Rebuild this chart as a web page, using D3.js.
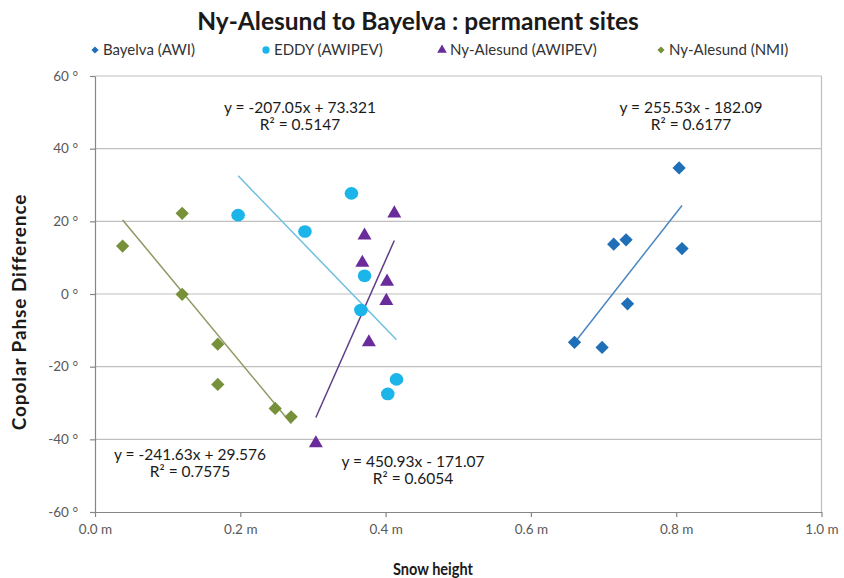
<!DOCTYPE html>
<html><head><meta charset="utf-8">
<script src="https://cdn.jsdelivr.net/npm/d3@7"></script>
<style>body{margin:0;background:#fff}svg{display:block}</style>
</head><body>
<svg id="c" width="844" height="578"></svg>
<script>
const seriesNames = ["Bayelva (AWI)", "EDDY (AWIPEV)", "Ny-Alesund (AWIPEV)", "Ny-Alesund (NMI)"];
const bayelvaX = [0.804, 0.714, 0.731, 0.808, 0.733, 0.660, 0.698];
const bayelvaY = [34.7, 13.7, 14.9, 12.5, -2.7, -13.3, -14.7];
const eddyX = [0.197, 0.289, 0.353, 0.371, 0.366, 0.415, 0.403];
const eddyY = [21.7, 17.2, 27.7, 5.0, -4.4, -23.5, -27.5];
const nyAwipevX = [0.412, 0.371, 0.368, 0.402, 0.401, 0.377, 0.304];
const nyAwipevY = [22.2, 16.1, 8.6, 3.4, -1.9, -13.3, -41.1];
const nyNmiX = [0.038, 0.120, 0.120, 0.169, 0.169, 0.248, 0.270];
const nyNmiY = [13.2, 22.2, -0.1, -13.8, -24.9, -31.5, -33.8];
const slopes = [255.53, -207.05, 450.93, -241.63];
const intercepts = [-182.09, 73.321, -171.07, 29.576];
const r2 = ["0.6177", "0.5147", "0.6054", "0.7575"];
const eqLabels = ["y = 255.53x - 182.09", "y = -207.05x + 73.321", "y = 450.93x - 171.07", "y = -241.63x + 29.576"];
const xTicks = [0, 0.2, 0.4, 0.6, 0.8, 1.0];
const yTicks = [-60, -40, -20, 0, 20, 40, 60];

const colors = ["#1F6FB8", "#1CB5EA", "#6A2C9A", "#77903A"];
const lineColors = ["#4A86C0", "#6FBFDD", "#5E3D86", "#8C9A62"];
const shapes = [d3.symbolSquare, d3.symbolCircle, d3.symbolTriangle, d3.symbolSquare];
const rot = [45, 0, 0, 45];
const sizes = [88, 125, 85, 88];
const eqPos = [[691, 108], [300, 108], [413, 462], [190, 455]];

const W = 844, H = 578;
const m = {l: 95, r: 22.5, t: 76, b: 66};
const svg = d3.select("#c");
const x = d3.scaleLinear().domain([0, 1]).range([m.l, W - m.r]);
const y = d3.scaleLinear().domain([-60, 60]).range([H - m.b, m.t]);
const font = "Lato, 'Open Sans', sans-serif";

// gridlines
svg.append("g").selectAll("line").data(yTicks.filter(d => d > -60)).join("line")
  .attr("x1", x(0)).attr("x2", x(1)).attr("y1", d => y(d)).attr("y2", d => y(d))
  .attr("stroke", "#bfbfbf").attr("stroke-width", 1.2);
svg.append("line").attr("x1", x(1)).attr("x2", x(1)).attr("y1", y(60)).attr("y2", y(-60))
  .attr("stroke", "#bfbfbf").attr("stroke-width", 1.2);

// axes
const xAxis = svg.append("g").attr("transform", `translate(0,${y(-60)})`)
  .call(d3.axisBottom(x).tickValues(xTicks).tickSize(5).tickSizeOuter(0).tickFormat(d => d3.format(".1f")(d) + " m"));
const yAxis = svg.append("g").attr("transform", `translate(${x(0)},0)`)
  .call(d3.axisLeft(y).tickValues(yTicks).tickSize(5).tickSizeOuter(0).tickFormat(d => d + " °"));
[xAxis, yAxis].forEach(a => {
  a.select(".domain").attr("stroke", "#868686").attr("stroke-width", 1.2);
  a.selectAll(".tick line").attr("stroke", "#868686").attr("stroke-width", 1.2);
  a.selectAll("text").attr("fill", "#595959").style("font-family", font).style("font-size", "13.5px");
});
xAxis.selectAll("text").attr("dy", "1.05em");
yAxis.selectAll("text").attr("x", -17);

// trendlines
const allX = [bayelvaX, eddyX, nyAwipevX, nyNmiX];
const allY = [bayelvaY, eddyY, nyAwipevY, nyNmiY];
allX.forEach((xs, i) => {
  const [a, b] = d3.extent(xs);
  svg.append("line")
    .attr("x1", x(a)).attr("y1", y(slopes[i] * a + intercepts[i]))
    .attr("x2", x(b)).attr("y2", y(slopes[i] * b + intercepts[i]))
    .attr("stroke", lineColors[i]).attr("stroke-width", 1.5);
});

// points
allX.forEach((xs, i) => {
  const pts = xs.map((v, j) => [v, allY[i][j]]);
  svg.append("g").selectAll("path").data(pts).join("path")
    .attr("d", d3.symbol().type(shapes[i]).size(sizes[i]))
    .attr("transform", d => `translate(${x(d[0])},${y(d[1])}) rotate(${rot[i]})${i === 1 ? " scale(1.08,1)" : ""}`)
    .attr("fill", colors[i]);
});

// equations
eqLabels.forEach((t, i) => {
  const g = svg.append("text").attr("text-anchor", "middle").attr("fill", "#1a1a1a")
    .style("font-family", font).style("font-size", "15.5px");
  g.append("tspan").attr("x", eqPos[i][0]).attr("y", eqPos[i][1] + 5).text(t);
  g.append("tspan").attr("x", eqPos[i][0]).attr("dy", 17).text("R² = " + r2[i]);
});

// title
svg.append("text").attr("x", 418).attr("y", 30).attr("text-anchor", "middle")
  .style("font-family", font).style("font-weight", "bold").style("font-size", "24.5px").attr("fill", "#1a1a1a")
  .text("Ny-Alesund to Bayelva : permanent sites");

// legend
const legX = [95, 266, 442, 661];
seriesNames.forEach((n, i) => {
  const g = svg.append("g").attr("transform", `translate(${legX[i]},50)`);
  g.append("path").attr("d", d3.symbol().type(shapes[i]).size(i === 1 ? 42 : (i === 2 ? 40 : 26)))
    .attr("transform", `rotate(${rot[i]})`).attr("fill", colors[i]);
  g.append("text").attr("x", 8).attr("y", 5).style("font-family", font).style("font-size", "15px")
    .attr("fill", "#333").text(n);
});

// axis titles
svg.append("text").attr("transform", `translate(26,${y(0) + 18}) rotate(-90)`).attr("text-anchor", "middle")
  .style("font-family", font).style("font-weight", "bold").style("font-size", "19px")
  .style("letter-spacing", "0.9px").attr("fill", "#1a1a1a")
  .text("Copolar Pahse Difference");
svg.append("text").attr("x", 433).attr("y", 575).attr("text-anchor", "middle")
  .style("font-family", font).style("font-weight", "bold").style("font-size", "17px").attr("fill", "#1a1a1a")
  .attr("textLength", 80).attr("lengthAdjust", "spacingAndGlyphs")
  .text("Snow height");
</script>
</body></html>
